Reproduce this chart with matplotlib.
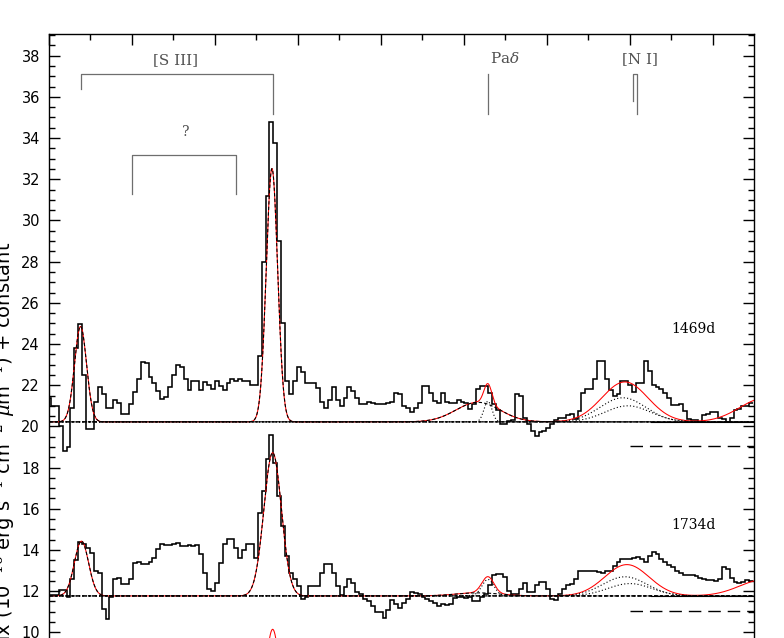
import numpy as np
import matplotlib.pyplot as plt
from matplotlib.ticker import MultipleLocator

# binned spectra: first bin centre and bin width (Angstrom)
wave0 = 9000.1
dwave = 9.4

flux_1469 = [
    21.4, 21.0, 21.0, 20.0, 18.8, 19.0, 20.9, 23.8, 24.95, 22.5,
    19.85, 19.85, 21.2, 21.9, 21.55, 20.9, 20.9, 21.3, 21.15, 20.6,
    20.6, 21.07, 21.65, 22.3, 23.15, 23.1, 22.4, 22.1, 21.7, 21.35,
    21.45, 21.9, 22.5, 23.0, 22.9, 22.3, 21.75, 22.2, 22.2, 21.75,
    22.15, 22.0, 21.8, 22.2, 21.95, 21.75, 22.1, 22.3, 22.2, 22.3,
    22.2, 22.2, 22.0, 22.0, 23.4, 28.0, 31.2, 34.8, 33.74, 29.0,
    25.0, 22.2, 21.55, 22.2, 22.9, 22.65, 22.1, 22.1, 22.1, 21.88,
    21.2, 20.9, 21.3, 21.9, 21.3, 21.0, 21.4, 21.9, 21.72, 21.4,
    21.1, 21.08, 21.18, 21.15, 21.1, 21.1, 21.08, 21.15, 21.2, 21.6,
    21.55, 21.0, 20.87, 20.7, 20.87, 21.15, 21.96, 21.96, 21.63, 21.22,
    21.15, 21.6, 21.2, 21.15, 21.15, 21.3, 21.2, 21.15, 20.85, 21.1,
    21.83, 21.96, 21.96, 21.63, 21.1, 20.8, 20.1, 20.1, 20.25, 20.3,
    21.55, 21.5, 20.4, 20.1, 19.8, 19.55, 19.72, 19.8, 19.93, 20.1,
    20.3, 20.42, 20.4, 20.55, 20.58, 20.35, 20.74, 21.63, 21.8, 21.8,
    22.3, 23.17, 23.17, 22.3, 21.76, 21.5, 21.55, 22.2, 22.2, 22.0,
    21.67, 22.1, 22.1, 23.17, 22.68, 22.0, 21.9, 21.8, 21.63, 21.4,
    21.03, 21.05, 21.1, 20.74, 20.35, 20.3, 20.3, 20.2, 20.54, 20.6,
    20.71, 20.71, 20.4, 20.35, 20.2, 20.4, 20.8, 20.85, 21.0, 21.0,
    21.13,
]

flux_1734 = [
    11.8, 11.8, 11.8, 12.05, 12.05, 11.7, 12.6, 13.5, 14.38, 14.3,
    14.1, 13.85, 13.0, 12.9, 11.15, 10.63, 11.7, 12.6, 12.65, 12.35,
    12.35, 12.6, 13.38, 13.4, 13.3, 13.3, 13.4, 13.6, 14.03, 14.27,
    14.22, 14.22, 14.3, 14.35, 14.2, 14.2, 14.25, 14.2, 14.22, 13.8,
    12.9, 12.09, 12.0, 12.4, 13.38, 14.27, 14.55, 14.55, 14.1, 13.6,
    14.0, 14.27, 14.27, 13.6, 15.81, 16.86, 18.43, 19.56, 18.24, 16.62,
    15.16, 13.7, 12.9, 12.6, 12.25, 11.6, 11.7, 12.25, 12.25, 12.25,
    12.86, 13.3, 13.3, 12.86, 12.25, 11.8, 12.2, 12.6, 12.4, 11.95,
    11.85, 11.6, 11.5, 11.3, 10.99, 10.99, 10.71, 11.1, 11.55, 11.4,
    11.2, 11.45, 11.6, 11.95, 11.9, 11.85, 11.7, 11.6, 11.5, 11.45,
    11.26, 11.4, 11.35, 11.4, 11.65, 11.7, 11.7, 11.65, 11.7, 11.5,
    11.5, 11.7, 11.85, 12.3, 12.78, 12.85, 12.85, 12.7, 12.0, 11.85,
    11.85, 12.1, 12.38, 11.98, 11.98, 12.28, 12.44, 12.44, 12.09, 11.64,
    11.55, 11.84, 12.12, 12.28, 12.36, 12.6, 12.98, 13.0, 13.0, 13.0,
    13.0, 12.95, 12.87, 12.98, 12.98, 13.2, 13.41, 13.54, 13.54, 13.57,
    13.63, 13.66, 13.54, 13.41, 13.7, 13.9, 13.8, 13.54, 13.4, 13.25,
    13.16, 12.98, 12.88, 12.8, 12.78, 12.8, 12.72, 12.65, 12.6, 12.55,
    12.52, 12.5, 12.6, 13.16, 13.1, 12.65, 12.45, 12.4, 12.45, 12.55,
    12.5,
]

epochs = ['1469d', '1734d']
spectra = [flux_1469, flux_1734]
continuum = [20.22, 11.77]
label_y = [24.74, 15.19]
cut_level = [19.04, 11.03]

# gaussian fits: [S III] 9069, [S III] 9531, Pa-delta broad, Pa-delta narrow,
# [N I] (two), feature past the red edge
fit_style = ['--', '--', '--', ':', ':', ':', None]
centre_1469 = [9076.0, 9537.3, 10033.7, 10057.8, 10383.0, 10395.0, 10725.0]
amp_1469 = [4.63, 12.3, 0.95, 1.0, 1.17, 0.78, 1.15]
sig_1469 = [14.5, 13.7, 53.0, 9.6, 55.0, 55.0, 60.0]
centre_1734 = [9078.3, 9539.0, 10033.7, 10057.8, 10388.0, 10400.0, 10725.0]
amp_1734 = [2.66, 6.95, 0.15, 0.8, 0.93, 0.6, 0.8]
sig_1734 = [17.1, 21.2, 53.0, 14.5, 53.0, 53.0, 60.0]
fits = [(centre_1469, amp_1469, sig_1469), (centre_1734, amp_1734, sig_1734)]

# next epoch down (only the [S III] peak reaches into view)
next_fit = (3.0, 9539.0, 7.15, 21.0)

# line identifications
s3_waves = [9077, 9540]
unknown_waves = [9200, 9451]
pad_wave = 10059
n1_waves = [10408, 10417]

xlo, xhi = 9000, 10699

plt.rcParams['mathtext.fontset'] = 'dejavuserif'

fig = plt.figure(figsize=(7.84, 6.38), dpi=100)
ax = fig.add_axes([49 / 784, 0.94671 - 0.9702, 705 / 784, 0.9702])


def gauss(x, c, a, s):
    return a * np.exp(-0.5 * ((x - c) / s) ** 2)


x = np.linspace(xlo, xhi, 4000)
edges = wave0 - dwave / 2 + dwave * np.arange(len(flux_1469) + 1)

for i in range(2):
    base = continuum[i]
    ax.stairs(spectra[i], edges, baseline=None, color='black', lw=1.15, zorder=3)
    cen, amp, sig = fits[i]
    total = base + sum(gauss(x, c, a, s) for c, a, s in zip(cen, amp, sig))
    ax.plot(x, total, color='red', lw=0.75, zorder=4)
    for c, a, s, st in zip(cen, amp, sig, fit_style):
        if st is None:
            continue
        ax.plot(x, base + gauss(x, c, a, s), color='black', lw=0.8, ls=st,
                dashes=(3, 2) if st == '--' else (1, 2), zorder=5)
    ax.plot([10450, xhi], [base, base], color='black', lw=0.8, zorder=5)
    ax.plot([10400, xhi], [cut_level[i], cut_level[i]], color='black', lw=1.0,
            dashes=(9, 5), zorder=5)
    ax.text(10552, label_y[i], epochs[i], family='DejaVu Serif', fontsize=10,
            ha='center', va='center')

b, c, a, s = next_fit
ax.plot(x, b + gauss(x, c, a, s), color='red', lw=0.75, zorder=4)

grey = '#6e6e6e'
tgrey = '#505050'
ax.plot([s3_waves[0], s3_waves[0], s3_waves[1], s3_waves[1]],
        [36.36, 37.09, 37.09, 35.15], color=grey, lw=0.9)
ax.plot([unknown_waves[0], unknown_waves[0], unknown_waves[1], unknown_waves[1]],
        [31.26, 33.2, 33.2, 31.26], color=grey, lw=0.9)
ax.plot([pad_wave, pad_wave], [37.09, 35.15], color=grey, lw=0.9)
ax.plot([n1_waves[0], n1_waves[0], n1_waves[1], n1_waves[1]],
        [35.78, 37.09, 37.09, 35.15], color=grey, lw=0.9)
ax.text(9306, 37.8, '[S III]', family='DejaVu Serif', fontsize=11, color=tgrey,
        ha='center', va='center')
ax.text(9330, 34.3, '?', family='DejaVu Serif', fontsize=10, color=tgrey,
        ha='center', va='center')
ax.text(10098, 37.85, r'Pa$\delta$', family='DejaVu Serif', fontsize=11,
        color=tgrey, ha='center', va='center')
ax.text(10425, 37.85, '[N I]', family='DejaVu Serif', fontsize=11, color=tgrey,
        ha='center', va='center')

ax.set_xlim(xlo, xhi)
ax.set_ylim(9, 39.05)
ax.xaxis.set_major_locator(MultipleLocator(200))
ax.xaxis.set_minor_locator(MultipleLocator(100))
ax.yaxis.set_major_locator(MultipleLocator(2))
ax.yaxis.set_minor_locator(MultipleLocator(0.5))
ax.tick_params(which='both', direction='in', top=True, right=True, width=1.0,
               labelbottom=False)
ax.tick_params(which='major', length=7.8)
ax.tick_params(which='minor', length=4.0)
ax.tick_params(axis='y', pad=6.5, labelsize=10.5)
for sp in ax.spines.values():
    sp.set_linewidth(1.0)

# axis title sits partly outside the crop, as in the original figure
fig.text(11 / 784, 1 - 242 / 638,
         r'Flux (10$^{-16}$ erg s$^{-1}$ cm$^{-2}$ $\mu$m$^{-1}$) + constant',
         rotation=90, rotation_mode='anchor', ha='right', va='baseline',
         fontsize=14)

fig.savefig('out.png', dpi=100)
